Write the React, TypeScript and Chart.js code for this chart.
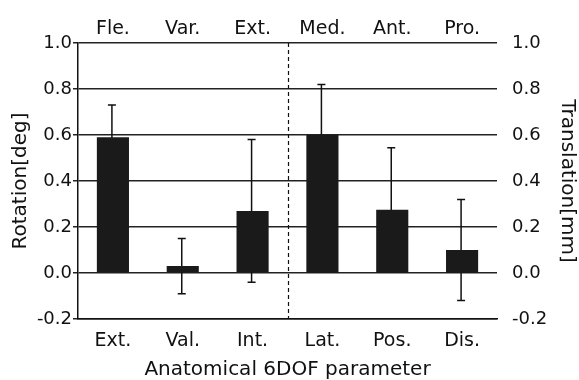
import React, { useEffect, useRef } from 'react';
import { Chart, registerables } from 'chart.js';

Chart.register(...registerables);

const bottomLabels = ['Ext.', 'Val.', 'Int.', 'Lat.', 'Pos.', 'Dis.'];
const topLabels = ['Fle.', 'Var.', 'Ext.', 'Med.', 'Ant.', 'Pro.'];
const rotationMeans = [0.59, 0.03, 0.27, null, null, null];
const rotationSD = [0.14, 0.12, 0.31, null, null, null];
const translationMeans = [null, null, null, 0.6, 0.275, 0.1];
const translationSD = [null, null, null, 0.22, 0.27, 0.22];
const yTicks = [-0.2, 0.0, 0.2, 0.4, 0.6, 0.8, 1.0];

const FONT = "'DejaVu Sans', sans-serif";
const INK = '#111';

const errorBars = {
  id: 'errorBars',
  beforeDatasetsDraw(chart: any) {
    const ctx = chart.ctx;
    const sds = [rotationSD, translationSD];
    chart.data.datasets.forEach((ds: any, di: number) => {
      const meta = chart.getDatasetMeta(di);
      const yScale = chart.scales[meta.yAxisID];
      meta.data.forEach((bar: any, i: number) => {
        const v = ds.data[i];
        const sd = sds[di][i];
        if (v == null || sd == null) return;
        const x = bar.x - 1;
        const yTop = yScale.getPixelForValue(v + sd);
        const yBot = yScale.getPixelForValue(v - sd);
        ctx.save();
        ctx.strokeStyle = '#111';
        ctx.lineWidth = 1.5;
        ctx.beginPath();
        ctx.moveTo(x, yTop);
        ctx.lineTo(x, yBot);
        ctx.moveTo(x - 4, yTop);
        ctx.lineTo(x + 4, yTop);
        ctx.moveTo(x - 4, yBot);
        ctx.lineTo(x + 4, yBot);
        ctx.stroke();
        ctx.restore();
      });
    });
  },
};

const divider = {
  id: 'divider',
  afterDatasetsDraw(chart: any) {
    const ctx = chart.ctx;
    const xs = chart.scales.x;
    const x = Math.round((xs.getPixelForValue(2) + xs.getPixelForValue(3)) / 2) + 0.5;
    const { top, bottom } = chart.chartArea;
    ctx.save();
    ctx.strokeStyle = '#111';
    ctx.lineWidth = 1.2;
    ctx.setLineDash([4, 3]);
    ctx.beginPath();
    ctx.moveTo(x, top);
    ctx.lineTo(x, bottom);
    ctx.stroke();
    ctx.restore();
  },
};

export default function App() {
  const ref = useRef<HTMLCanvasElement | null>(null);
  useEffect(() => {
    if (!ref.current) return;
    const chart = new Chart(ref.current, {
      type: 'bar',
      data: {
        labels: bottomLabels,
        datasets: [
          {
            label: 'Rotation',
            data: rotationMeans as any,
            yAxisID: 'y',
            backgroundColor: '#1a1a1a',
            barPercentage: 0.46,
            categoryPercentage: 1,
            grouped: false,
          },
          {
            label: 'Translation',
            data: translationMeans as any,
            yAxisID: 'y2',
            backgroundColor: '#1a1a1a',
            barPercentage: 0.46,
            categoryPercentage: 1,
            grouped: false,
          },
        ],
      },
      options: {
        responsive: false,
        animation: false,
        layout: { padding: 0 },
        plugins: { legend: { display: false }, tooltip: { enabled: false } },
        scales: {
          x: {
            type: 'category',
            position: 'bottom',
            offset: true,
            grid: { display: false, drawTicks: false },
            border: { display: true, color: '#111', width: 1.5 },
            ticks: { color: INK, font: { family: FONT, size: 19 }, padding: 11, maxRotation: 0 },
            title: {
              display: true,
              text: 'Anatomical 6DOF parameter',
              color: INK,
              font: { family: FONT, size: 20, lineHeight: 1 },
              padding: { top: 0, bottom: 0 },
            },
            afterFit(scale: any) {
              scale.height = 61;
            },
          },
          x2: {
            type: 'category',
            position: 'top',
            labels: topLabels,
            offset: true,
            grid: { display: false, drawTicks: false },
            border: { display: false },
            ticks: { color: INK, font: { family: FONT, size: 19 }, padding: 3, maxRotation: 0 },
            afterFit(scale: any) {
              scale.height = 43;
            },
          },
          y: {
            position: 'left',
            min: -0.2,
            max: 1.0,
            afterBuildTicks(scale: any) {
              scale.ticks = yTicks.map((v) => ({ value: v }));
            },
            grid: { color: '#222', lineWidth: 1.5, drawTicks: true, tickLength: 5 },
            border: { display: true, color: '#111', width: 1.5 },
            ticks: {
              color: INK,
              font: { family: FONT, size: 18 },
              padding: 1,
              callback: (v: any) => Number(v).toFixed(1),
            },
            title: {
              display: true,
              text: 'Rotation[deg]',
              color: INK,
              font: { family: FONT, size: 20, lineHeight: 1 },
              padding: { top: 11, bottom: 0 },
            },
            afterFit(scale: any) {
              scale.width = 78;
            },
          },
          y2: {
            position: 'right',
            min: -0.2,
            max: 1.0,
            afterBuildTicks(scale: any) {
              scale.ticks = yTicks.map((v) => ({ value: v }));
            },
            grid: { display: false, drawTicks: false },
            border: { display: false },
            ticks: {
              color: INK,
              font: { family: FONT, size: 18 },
              padding: 15,
              callback: (v: any) => Number(v).toFixed(1),
            },
            title: {
              display: true,
              text: 'Translation[mm]',
              color: INK,
              font: { family: FONT, size: 20, lineHeight: 1 },
              padding: { top: 2, bottom: 0 },
            },
            afterFit(scale: any) {
              scale.width = 82;
            },
          },
        },
      },
      plugins: [errorBars, divider],
    });
    return () => chart.destroy();
  }, []);
  return (
    <div style={{ position: 'absolute', left: 0, top: 0, width: 579, height: 380, background: '#fff' }}>
      <canvas ref={ref} width={579} height={380} />
    </div>
  );
}
